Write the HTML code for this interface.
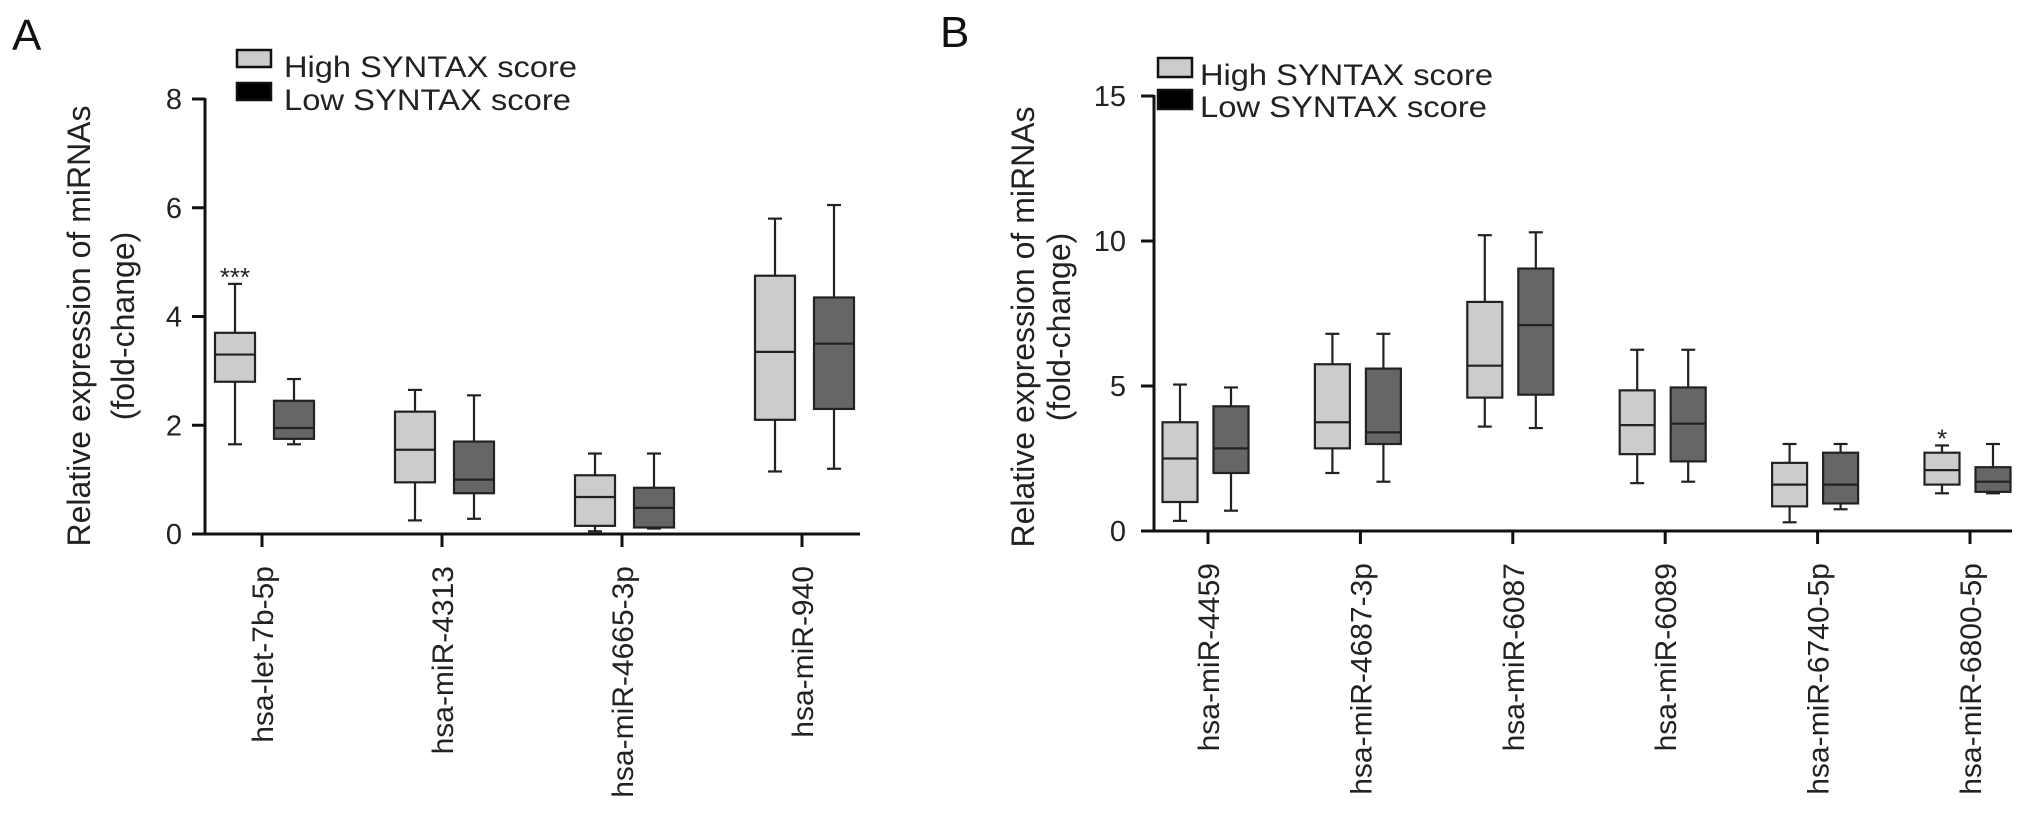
<!DOCTYPE html>
<html><head><meta charset="utf-8"><style>
html,body{margin:0;padding:0;background:#fff;}
svg{display:block;font-family:"Liberation Sans",Arial,sans-serif;}
</style></head><body>
<svg id="chart" width="2032" height="827" viewBox="0 0 2032 827"></svg>
<script>
// Panel A data: [min, q1, median, q3, max]
const catsA = ["hsa-let-7b-5p","hsa-miR-4313","hsa-miR-4665-3p","hsa-miR-940"];
const highA = [[1.65,2.8,3.3,3.7,4.6],[0.25,0.95,1.55,2.25,2.65],[0.05,0.15,0.68,1.08,1.48],[1.15,2.1,3.35,4.75,5.8]];
const lowA  = [[1.65,1.75,1.95,2.45,2.85],[0.28,0.75,1.0,1.7,2.55],[0.1,0.12,0.48,0.85,1.48],[1.2,2.3,3.5,4.35,6.05]];
const ticksA = [0,2,4,6,8];
const sigA = ["***","","",""];
// Panel B data
const catsB = ["hsa-miR-4459","hsa-miR-4687-3p","hsa-miR-6087","hsa-miR-6089","hsa-miR-6740-5p","hsa-miR-6800-5p"];
const highB = [[0.35,1.0,2.5,3.75,5.05],[2.0,2.85,3.75,5.75,6.8],[3.6,4.6,5.7,7.9,10.2],[1.65,2.65,3.65,4.85,6.25],[0.3,0.85,1.6,2.35,3.0],[1.3,1.6,2.1,2.7,2.95]];
const lowB  = [[0.7,2.0,2.85,4.3,4.95],[1.7,3.0,3.4,5.6,6.8],[3.55,4.7,7.1,9.05,10.3],[1.7,2.4,3.7,4.95,6.25],[0.75,0.95,1.6,2.7,3.0],[1.3,1.35,1.7,2.2,3.0]];
const ticksB = [0,5,10,15];
const sigB = ["","","","","","*"];

const NS="http://www.w3.org/2000/svg";
const svg=document.getElementById('chart');
function mk(tag,attrs,parent){const e=document.createElementNS(NS,tag);for(const k in attrs)e.setAttribute(k,attrs[k]);(parent||svg).appendChild(e);return e;}

function panel(p){
  const g=mk('g',{});
  
  
  const y=v=>p.y0-(v-p.vmin)/(p.vmax-p.vmin)*(p.y0-p.yTop);
  const n=p.cats.length;
  const xc=i=>p.firstTick+i*(p.lastTick-p.firstTick)/(n-1);
  const L=mk('text',{x:p.letterX,y:p.letterY,'font-size':44,fill:'#111'},g);L.textContent=p.letter;
  
  
  const ya=mk('line',{x1:p.x0,y1:y(p.vmax)-1,x2:p.x0,y2:p.y0+1.5,stroke:'#111','stroke-width':3},g);
  
  
  const xa=mk('line',{x1:p.x0-13,y1:p.y0,x2:p.xEnd,y2:p.y0,stroke:'#111','stroke-width':3},g);
  
  
  p.ticks.forEach(t=>{
    mk('line',{x1:p.x0-13,y1:y(t),x2:p.x0,y2:y(t),stroke:'#111','stroke-width':3},g);
    const tl=mk('text',{x:p.tickLabelX,y:y(t)+10,'font-size':29,'text-anchor':'end',fill:'#222'},g);
    tl.textContent=t;
    
    
  });
  const yt=mk('text',{transform:`translate(${p.titleX},${p.titleY}) rotate(-90)`,'font-size':32,'text-anchor':'middle',fill:'#222'},g);
  
  
  const t1=mk('tspan',{x:0,y:0},yt);t1.textContent='Relative expression of miRNAs';
  const t2=mk('tspan',{x:0,y:p.titleGap},yt);t2.textContent='(fold-change)';
  [['High SYNTAX score','#cccccc',0],['Low SYNTAX score','#000',1]].forEach(([lab,col,i])=>{
    const r=mk('rect',{x:p.legX,y:p.legY+i*p.legGap,width:34,height:p.legH,fill:col,stroke:'#111','stroke-width':2.5},g);
    
    
    const tx=mk('text',{x:p.legTX,y:p.legBase+i*p.legGap,'font-size':30,fill:'#222',textLength:i?p.legW-6:p.legW,lengthAdjust:'spacingAndGlyphs'},g);
    tx.textContent=lab;
    
    
  });
  function box(d,cx,fill,nm){
    const bg=mk('g',{},g);
    
    
    const w=p.bw;
    mk('line',{x1:cx,y1:y(d[0]),x2:cx,y2:y(d[4]),stroke:'#222','stroke-width':2.2},bg);
    mk('line',{x1:cx-7,y1:y(d[0]),x2:cx+7,y2:y(d[0]),stroke:'#222','stroke-width':2.2},bg);
    mk('line',{x1:cx-7,y1:y(d[4]),x2:cx+7,y2:y(d[4]),stroke:'#222','stroke-width':2.2},bg);
    mk('rect',{x:cx-w/2,y:y(d[3]),width:w,height:y(d[1])-y(d[3]),fill:fill,stroke:'#222','stroke-width':2.2},bg);
    mk('line',{x1:cx-w/2,y1:y(d[2]),x2:cx+w/2,y2:y(d[2]),stroke:'#222','stroke-width':2.2},bg);
  }
  p.cats.forEach((c,i)=>{
    const cx=xc(i);
    mk('line',{x1:cx,y1:p.y0,x2:cx,y2:p.y0+13,stroke:'#111','stroke-width':3},g);
    box(p.high[i],cx+p.offH,'#cccccc','box-high-'+c);
    box(p.low[i],cx+p.offL,'#666666','box-low-'+c);
    if(p.sig[i]){
      const s=mk('text',{x:cx+p.offH,y:y(p.high[i][4])+2,'font-size':26,'text-anchor':'middle',fill:'#222'},g);
      s.textContent=p.sig[i];
      
      
    }
    const xl=mk('text',{transform:`translate(${cx+11},${p.y0+32}) rotate(-90)`,'font-size':30,'text-anchor':'end',fill:'#222'},g);
    xl.textContent=c;
    
    
  });
}

panel({name:'panel-a',letter:'A',letterX:12,letterY:50,cats:catsA,high:highA,low:lowA,ticks:ticksA,sig:sigA,
  vmin:0,vmax:8,y0:534,yTop:99,x0:205,xEnd:860,firstTick:262,lastTick:802,offH:-27,offL:32,bw:40,tickLabelX:182,
  titleX:90,titleY:326,titleGap:44,legX:237,legY:50,legH:17,legGap:33,legTX:284,legBase:77,legW:293});
panel({name:'panel-b',letter:'B',letterX:940,letterY:47,cats:catsB,high:highB,low:lowB,ticks:ticksB,sig:sigB,
  vmin:0,vmax:15,y0:531,yTop:96,x0:1154,xEnd:2012,firstTick:1208,lastTick:1970,offH:-28,offL:23,bw:35,tickLabelX:1126,
  titleX:1034,titleY:327,titleGap:36,legX:1158,legY:58,legH:19,legGap:32,legTX:1200,legBase:85,legW:293});
</script>
</body></html>
